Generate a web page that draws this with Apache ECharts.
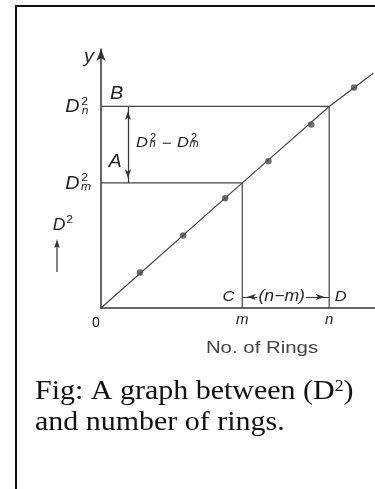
<!DOCTYPE html>
<html>
<head>
<meta charset="utf-8">
<script src="https://cdn.jsdelivr.net/npm/echarts@6/dist/echarts.min.js"></script>
<style>
  html, body { margin: 0; padding: 0; background: #fff; }
  #chart { width: 375px; height: 489px; }
</style>
</head>
<body>
<div id="chart"></div>
<script>
// Ring number (x) and measured squared diameter D^2 (y), arbitrary units
const ringNo = [0.91, 1.92, 2.90, 3.91, 4.91, 5.91];
const diamSq = [0.94, 1.92, 2.90, 3.88, 4.85, 5.83];

// The two chosen rings m and n and their D^2 values on the straight line
const ringM = 3.30;
const ringN = 5.33;
const dSqM = 3.31;
const dSqN = 5.33;

// Straight line through the origin, drawn across the plot
const fitX = [0, ringM, ringN, 6.36];
const fitY = [0, dSqM, dSqN, 6.21];

// Labels under the x axis
const xTickValues = [0, ringM, ringN];
const xTickText = ['0', 'm', 'n'];

// Axis extents
const xMax = 6.4;
const yMax = 6.85;

const SANS = '"Liberation Sans", Arial, Helvetica, sans-serif';
const SERIF = '"Liberation Serif", "Times New Roman", serif';
const INK = '#222';
const LINE = '#444';

// Where the dimension arrows run
const spanArrowX = 0.63;   // vertical arrow between D_m^2 and D_n^2
const gapArrowY = 0.29;    // horizontal arrow between m and n

const chart = echarts.init(document.getElementById('chart'), null, { renderer: 'canvas' });

// Arrow-headed end of a dimension line; the tip lands on the coordinate
function arrowEnd(coord) {
  return { coord: coord, symbol: 'arrow', symbolSize: [4.5, 9], symbolOffset: [0, 4.5] };
}

chart.setOption({
  animation: false,
  grid: { left: 101, right: 0, top: 49, bottom: 181, containLabel: false },
  xAxis: {
    type: 'value', min: 0, max: xMax,
    axisLine: { show: true, lineStyle: { color: '#333', width: 1.5 } },
    axisTick: { show: false },
    splitLine: { show: false },
    axisLabel: {
      customValues: xTickValues,
      margin: 4,
      color: INK,
      formatter: function (v) {
        const t = xTickText[xTickValues.indexOf(v)];
        return t === '0' ? '{z|0}' : '{i|' + t + '}';
      },
      rich: {
        z: { fontFamily: SANS, fontSize: 14, color: INK, padding: [4, 10, 0, 0] },
        i: { fontFamily: SANS, fontSize: 15, fontStyle: 'italic', color: INK }
      }
    }
  },
  yAxis: {
    type: 'value', min: 0, max: yMax,
    axisLine: {
      show: true, symbol: ['none', 'arrow'], symbolSize: [7, 12],
      lineStyle: { color: '#333', width: 1.5 }
    },
    axisTick: { show: false },
    axisLabel: { show: false },
    splitLine: { show: false }
  },
  series: [
    {
      name: 'line', type: 'line', silent: true,
      data: fitX.map((x, i) => [x, fitY[i]]),
      symbol: 'none',
      lineStyle: { color: LINE, width: 1.2 },
      markLine: {
        silent: true,
        label: { show: false },
        lineStyle: { color: '#333', width: 1.2, type: 'solid' },
        data: [
          [arrowEnd([spanArrowX, dSqN]), arrowEnd([spanArrowX, dSqM])],
          [arrowEnd([ringM, gapArrowY]), arrowEnd([ringN, gapArrowY])]
        ]
      }
    },
    {
      name: 'm', type: 'line', silent: true,
      data: [[0, dSqM], [ringM, dSqM], [ringM, 0]],
      symbol: 'none',
      lineStyle: { color: LINE, width: 1.2 }
    },
    {
      name: 'n', type: 'line', silent: true,
      data: [[0, dSqN], [ringN, dSqN], [ringN, 0]],
      symbol: 'none',
      lineStyle: { color: LINE, width: 1.2 }
    },
    {
      name: 'readings', type: 'scatter', silent: true,
      data: ringNo.map((x, i) => [x, diamSq[i]]),
      symbolSize: 6.5,
      itemStyle: { color: '#4a4a4a' },
      z: 5
    }
  ]
});

// Letter annotations, each tied to a point of the plot and nudged in pixels
const big = 'italic 18px ' + SANS;
const mid = 'italic 15px ' + SANS;
const small = '11px ' + SANS;
const smallIt = 'italic 11px ' + SANS;
const tiny = '10px ' + SANS;
const tinyIt = 'italic 10px ' + SANS;
const spanMid = [spanArrowX, (dSqM + dSqN) / 2];
const notes = [
  { at: [0, yMax], dx: -12, dy: 8, text: 'y', font: big },
  { at: [0, dSqN], dx: 15.5, dy: -12, text: 'B', font: big },
  { at: [0, dSqN], dx: -28.5, dy: 1, text: 'D', font: big },
  { at: [0, dSqN], dx: -16.5, dy: -5, text: '2', font: small },
  { at: [0, dSqN], dx: -16, dy: 4, text: 'n', font: smallIt },
  { at: [0, dSqM], dx: -28.5, dy: 1, text: 'D', font: big },
  { at: [0, dSqM], dx: -16.5, dy: -5, text: '2', font: small },
  { at: [0, dSqM], dx: -15, dy: 4, text: 'm', font: smallIt },
  { at: [0, dSqM], dx: 14, dy: -20.5, text: 'A', font: big },
  { at: spanMid, dx: 14, dy: -2, text: 'D', font: mid },
  { at: spanMid, dx: 25, dy: -6, text: '2', font: tiny },
  { at: spanMid, dx: 24.5, dy: 0, text: 'n', font: tinyIt },
  { at: spanMid, dx: 38.5, dy: -1, text: '\u2212', font: mid },
  { at: spanMid, dx: 55, dy: -2, text: 'D', font: mid },
  { at: spanMid, dx: 66, dy: -6, text: '2', font: tiny },
  { at: spanMid, dx: 66, dy: 0, text: 'm', font: tinyIt },
  { at: [ringM, 0], dx: -13.7, dy: -11, text: 'C', font: 'italic 15px ' + SANS },
  { at: [ringN, 0], dx: 11.4, dy: -11, text: 'D', font: 'italic 15px ' + SANS },
  { at: [(ringM + ringN) / 2, gapArrowY], dx: -4, dy: 0, text: '(n\u2212m)', font: 'italic 16px ' + SANS, boxed: true }
];

function label(x, y, text, font, extra) {
  const el = {
    type: 'text', x: x, y: y, z: 100, silent: true, scaleX: 1.1,
    style: {
      text: text, font: font, fill: INK,
      align: 'center', verticalAlign: 'middle',
      textAlign: 'center', textVerticalAlign: 'middle'
    }
  };
  return Object.assign(el, extra || {});
}

const graphics = notes.map(function (n) {
  const p = chart.convertToPixel({ gridIndex: 0 }, n.at);
  const el = label(p[0] + n.dx, p[1] + n.dy, n.text, n.font);
  if (n.boxed) {
    el.style.backgroundColor = '#fff';
    el.style.padding = [0, 1];
  }
  return el;
});

// Frame around the figure
graphics.push({
  type: 'rect', z: 90, silent: true,
  shape: { x: 16, y: 6, width: 420, height: 520 },
  style: { fill: 'none', stroke: '#111', lineWidth: 2 }
});

// D^2 with an upward arrow, beside the vertical axis
graphics.push(label(59, 225.5, 'D', 'italic 16px ' + SANS));
graphics.push(label(69.5, 219.5, '2', '11px ' + SANS));
graphics.push({
  type: 'line', z: 90, silent: true,
  shape: { x1: 57, y1: 272, x2: 57, y2: 245 },
  style: { stroke: '#333', lineWidth: 1.2 }
});
graphics.push({
  type: 'polygon', z: 90, silent: true,
  shape: { points: [[57, 239], [54.3, 248], [57, 246.5], [59.7, 248]] },
  style: { fill: '#333' }
});

// Axis title
graphics.push({
  type: 'text', x: 262, y: 348, z: 100, silent: true, scaleX: 1.2,
  style: {
    text: 'No. of Rings', font: '17px ' + SANS, fill: '#444',
    align: 'center', verticalAlign: 'middle', textAlign: 'center', textVerticalAlign: 'middle'
  }
});

// Caption
graphics.push({
  type: 'text', x: 35, y: 392, z: 100, silent: true, scaleX: 1.11,
  style: {
    text: '{a|Fig: A graph between (D}{s|2}{a|)}',
    rich: {
      a: { font: '27px ' + SERIF, fill: '#111' },
      s: { font: '16px ' + SERIF, fill: '#111', verticalAlign: 'top' }
    },
    fill: '#111', align: 'left', verticalAlign: 'middle', textAlign: 'left', textVerticalAlign: 'middle'
  }
});
graphics.push({
  type: 'text', x: 35, y: 423, z: 100, silent: true, scaleX: 1.11,
  style: {
    text: 'and number of rings.', font: '27px ' + SERIF, fill: '#111',
    align: 'left', verticalAlign: 'middle', textAlign: 'left', textVerticalAlign: 'middle'
  }
});

chart.setOption({ graphic: graphics });
</script>
</body>
</html>
